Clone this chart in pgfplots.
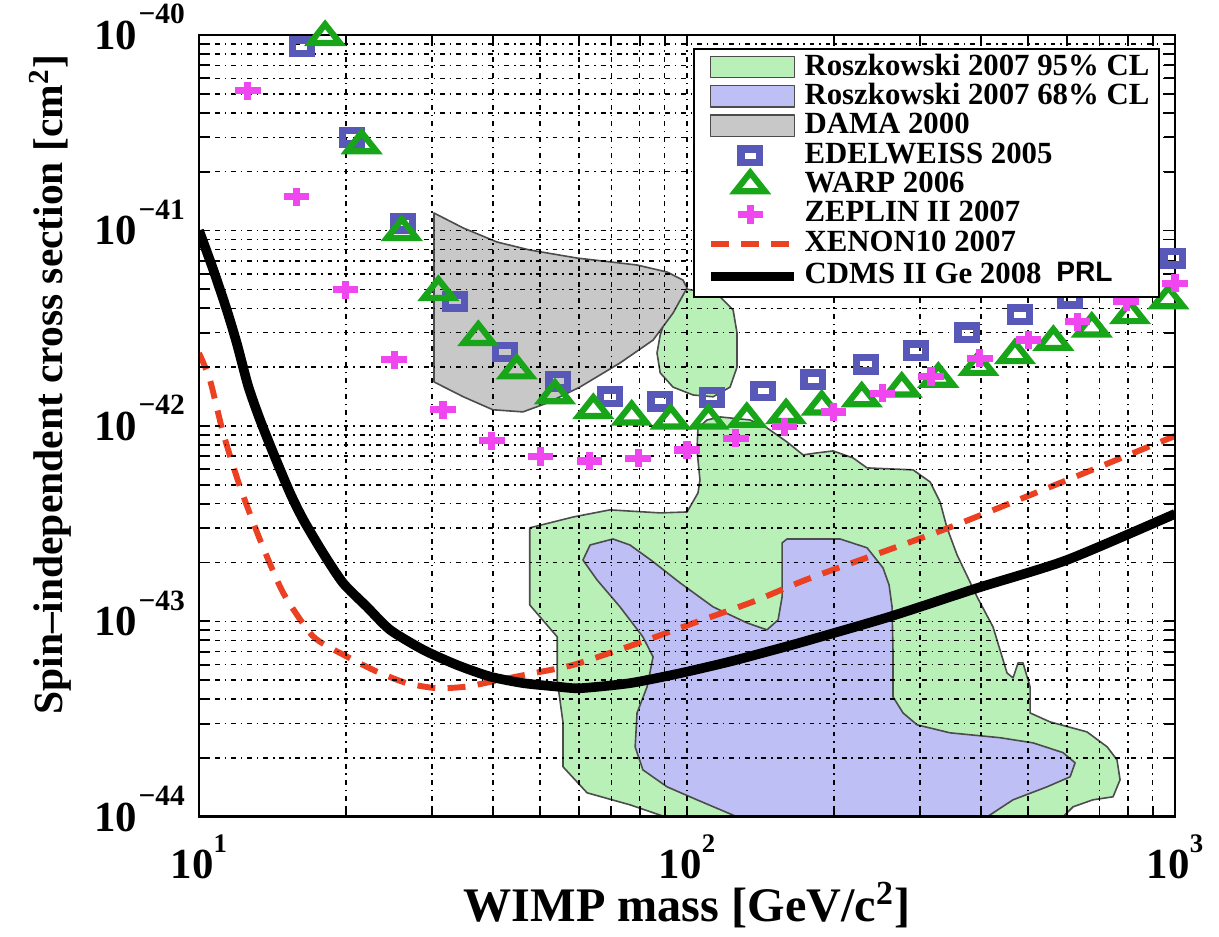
\documentclass[border=0pt]{standalone}
\usepackage{fontspec}
\setmainfont{Liberation Serif}
\newfontfamily\arialfont{Liberation Sans}
\usepackage{pgfplots}
\pgfplotsset{compat=1.18}

\definecolor{gfill}{RGB}{184,240,184}
\definecolor{bfill}{RGB}{190,192,245}
\definecolor{dfill}{RGB}{200,200,200}
\definecolor{edel}{RGB}{88,88,184}
\definecolor{warp}{RGB}{25,165,25}
\definecolor{zep}{RGB}{240,70,240}
\definecolor{xen}{RGB}{236,64,34}

\pgfplotsset{
  patchleg/.style={legend image code/.code={\path (0cm,-0.16cm) (1.2cm,0.16cm); \draw[##1] (0.1cm,-0.13cm) rectangle (1.2cm,0.15cm);}},
  markleg/.style={legend image code/.code={\path (0cm,-0.16cm) (1.2cm,0.16cm); \draw[##1] plot coordinates {(0.62cm,0cm)};}},
  lineleg/.style={legend image code/.code={\path (0cm,-0.16cm) (1.2cm,0.16cm); \draw[##1] (0.1cm,0cm) -- (1.2cm,0cm);}},
}

\newcommand{\xt}[1]{\bfseries 10\raisebox{0.6em}{\fontsize{10}{10}\selectfont\bfseries #1}}
\newcommand{\yt}[1]{\bfseries 10\raisebox{0.6em}{\fontsize{11}{11}\selectfont\bfseries\kern0.05em −#1}}

\begin{document}
\begin{tikzpicture}
\begin{axis}[
  name=ax, at={(0,0)}, anchor=south west,
  scale only axis, width=12.81cm, height=10.26cm,
  xmode=log, ymode=log,
  xmin=10, xmax=1000, ymin=1e-44, ymax=1e-40,
  xtick={10,100,1000}, xticklabels={\xt{1},\xt{2},\xt{3}},
  ytick={1e-44,1e-43,1e-42,1e-41,1e-40},
  yticklabels={\yt{44},\yt{43},\yt{42},\yt{41},\yt{40}},
  minor xtick={20,30,40,50,60,70,80,90,200,300,400,500,600,700,800,900},
  minor ytick={2e-44,3e-44,4e-44,5e-44,6e-44,7e-44,8e-44,9e-44,2e-43,3e-43,4e-43,5e-43,6e-43,7e-43,8e-43,9e-43,2e-42,3e-42,4e-42,5e-42,6e-42,7e-42,8e-42,9e-42,2e-41,3e-41,4e-41,5e-41,6e-41,7e-41,8e-41,9e-41},
  tick align=inside, tick pos=both,
  major tick length=0.14cm, minor tick length=0.14cm,
  every tick/.style={black, line width=0.7pt},
  axis line style={line width=1pt},
  grid=both,
  major grid style={black, line width=0.55pt, dash pattern=on 1.8pt off 1.8pt on 0.6pt off 1.8pt},
  minor grid style={black, line width=0.55pt, dash pattern=on 1.8pt off 1.8pt on 0.6pt off 1.8pt},
  axis on top,
  xticklabel style={font=\fontsize{16}{18}\selectfont, anchor=north, inner sep=0pt, yshift=-0.23cm},
  yticklabel style={font=\fontsize{16}{18}\selectfont, anchor=base east, inner sep=0pt, xshift=-0.18cm, yshift=-5.4pt},
  xlabel={WIMP mass [GeV/c\textsuperscript{2}]},
  xlabel style={at={(axis description cs:0.5,-0.1126)}, anchor=center, font=\fontsize{18}{20}\selectfont\bfseries},
  ylabel={Spin--independent cross section [cm\textsuperscript{2}]},
  ylabel style={at={(axis description cs:-0.1527,0.5526)}, anchor=center, font=\fontsize{15.5}{18}\selectfont\bfseries},
  legend style={at={(axis description cs:0.9844,0.9834)}, anchor=north east, draw=black, line width=0.8pt, fill=white, inner sep=1.5pt, font=\fontsize{11.5}{13}\selectfont\bfseries, row sep=0pt, nodes={inner xsep=2pt, inner ysep=0.2pt, text height=8.1pt, text depth=2.45pt}},
  legend cell align=left,
]
% Roszkowski 95% CL (main region)
\addplot[fill=gfill, draw=black!70, line width=0.6pt, line join=round, patchleg]
coordinates {(105.3,9.77e-43) (109.9,1.073e-42) (116.9,1.112e-42) (134.6,1.073e-42) (145.8,9.77e-43) (160.3,8.28e-43) (172.9,7.11e-43) (184.6,7.28e-43) (199.2,7.45e-43) (218.9,6.86e-43) (233.8,6.10e-43) (290.5,5.96e-43) (314.8,5.17e-43) (329.9,4.09e-43) (341.0,3.01e-43) (357.5,2.19e-43) (393,1.335e-43) (423.6,9.37e-44) (452.5,5.45e-44) (465.6,5.14e-44) (476.8,6.13e-44) (488,6.13e-44) (504.6,4.62e-44) (504.6,3.40e-44) (554.5,3.06e-44) (660,2.72e-44) (726,2.28e-44) (760.5,1.957e-44) (771.5,1.547e-44) (746.4,1.266e-44) (679,1.222e-44) (618,1.125e-44) (589.5,1e-44) (90.2,1e-44) (76.4,1.152e-44) (62.4,1.327e-44) (55.7,1.803e-44) (55.7,3.03e-44) (54.2,5.02e-44) (54.2,8.33e-44) (47.6,1.214e-43) (47.6,3.01e-43) (58.4,3.42e-43) (69.5,3.72e-43) (88.1,3.59e-43) (100,3.63e-43) (105.3,4.54e-43) (106.3,5.29e-43) (104.8,7.54e-43)} -- cycle;
\addlegendentry{Roszkowski 2007 95\% CL}
% Roszkowski 95% CL (small island)
\addplot[forget plot, fill=gfill, draw=black!70, line width=0.6pt, line join=round]
coordinates {(92.3,4.16e-42) (99.5,5.02e-42) (107.8,4.85e-42) (116.9,4.57e-42) (124.3,3.92e-42) (126.6,2.99e-42) (126.6,2.00e-42) (122.5,1.58e-42) (113.1,1.41e-42) (102.9,1.44e-42) (93.6,1.58e-42) (88.1,1.87e-42) (86.8,2.36e-42) (88.1,2.92e-42)} -- cycle;
% Roszkowski 68% CL
\addplot[fill=bfill, draw=black!70, line width=0.6pt, line join=round, patchleg]
coordinates {(61.2,2.06e-43) (63.3,2.46e-43) (70.5,2.64e-43) (76.4,2.46e-43) (85.2,2.02e-43) (96.8,1.573e-43) (113.1,1.186e-43) (132.7,9.82e-44) (145.8,9.05e-44) (153.7,1.018e-43) (156.6,1.335e-43) (156.6,2.52e-43) (160.3,2.64e-43) (205.8,2.64e-43) (233.8,2.38e-43) (252.1,1.878e-43) (259.4,1.537e-43) (263.1,1.186e-43) (264.3,6.90e-44) (264.3,4.11e-44) (277.1,3.40e-44) (296.1,2.955e-44) (345.8,2.69e-44) (437.8,2.54e-44) (511.7,2.39e-44) (589.5,2.13e-44) (624,1.889e-44) (609.4,1.602e-44) (546.6,1.424e-44) (465.6,1.222e-44) (412,1e-44) (126.6,1e-44) (104.8,1.222e-44) (91.0,1.424e-44) (81.2,1.739e-44) (78.3,2.28e-44) (79.0,3.40e-44) (82.8,4.62e-44) (85.2,6.58e-44) (81.2,8.33e-44) (72.9,1.186e-43) (65.4,1.63e-43)} -- cycle;
\addlegendentry{Roszkowski 2007 68\% CL}
% DAMA 2000
\addplot[fill=dfill, draw=black!70, line width=0.6pt, line join=round, patchleg]
coordinates {(30.3,1.229e-41) (34.8,1.030e-41) (40.8,8.73e-42) (47.6,7.95e-42) (59.5,7.23e-42) (79.0,6.66e-42) (91.0,6.13e-42) (98.1,5.58e-42) (100,5.08e-42) (93.6,3.78e-42) (85.2,2.75e-42) (72.9,2.10e-42) (60.3,1.58e-42) (51.7,1.31e-42) (46.1,1.18e-42) (40.0,1.21e-42) (34.8,1.41e-42) (30.3,1.68e-42)} -- cycle;
\addlegendentry{DAMA 2000}
% EDELWEISS 2005
\addplot[only marks, mark=square, color=edel, mark size=2.5pt, mark options={xscale=1.4, line width=2.8pt, solid}, markleg]
coordinates {(16.24,8.71e-41) (20.56,3.0e-41) (26.22,1.09e-41) (33.46,4.33e-42) (42.36,2.39e-42) (54.49,1.69e-42) (69.54,1.41e-42) (88.09,1.34e-42) (112.3,1.40e-42) (143.3,1.51e-42) (181.5,1.72e-42) (232.7,2.07e-42) (294.6,2.43e-42) (375.3,3.0e-42) (481.3,3.70e-42) (609.2,4.50e-42) (771.5,5.6e-42) (992,7.2e-42)};
\addlegendentry{EDELWEISS 2005}
% WARP 2006
\addplot[only marks, mark=triangle, color=warp, mark size=4.9pt, mark options={xscale=1.3, yscale=0.95, line width=2.3pt, solid}, markleg]
coordinates {(18.13,9.8e-41) (21.54,2.74e-41) (26.03,9.86e-42) (30.94,4.86e-42) (37.36,2.86e-42) (44.77,1.93e-42) (53.63,1.44e-42) (64.27,1.21e-42) (77.03,1.12e-42) (92.60,1.07e-42) (110.6,1.07e-42) (132.6,1.09e-42) (159.6,1.14e-42) (188.8,1.26e-42) (228.0,1.39e-42) (275.4,1.56e-42) (327.3,1.75e-42) (395.4,2.01e-42) (470.0,2.31e-42) (563.2,2.70e-42) (675.1,3.16e-42) (808.6,3.70e-42) (969.0,4.41e-42)};
\addlegendentry{WARP 2006}
% ZEPLIN II 2007
\addplot[only marks, mark=+, color=zep, mark size=3.4pt, mark options={xscale=1.4, line width=2.7pt, solid}, markleg]
coordinates {(12.59,5.19e-41) (15.85,1.49e-41) (19.95,4.97e-42) (25.12,2.18e-42) (31.62,1.21e-42) (39.81,8.41e-43) (50.12,6.97e-43) (63.10,6.62e-43) (79.43,6.84e-43) (100,7.53e-43) (125.9,8.65e-43) (158.5,9.9e-43) (199.5,1.18e-42) (251.2,1.47e-42) (316.2,1.79e-42) (398.1,2.22e-42) (501.2,2.75e-42) (631.0,3.41e-42) (794.3,4.33e-42) (1000,5.37e-42)};
\addlegendentry{ZEPLIN II 2007}
% XENON10 2007
\addplot[color=xen, line width=2.2pt, dash pattern=on 6.7pt off 4.6pt, smooth, tension=0.4, mark=none, lineleg]
coordinates {(10,2.36e-42) (10.53,1.72e-42) (11.21,9.18e-43) (12.13,4.89e-43) (13.34,2.61e-43) (14.89,1.394e-43) (17.15,8.36e-44) (20.08,6.61e-44) (23.12,5.54e-44) (26.65,4.83e-44) (30.70,4.55e-44) (35.37,4.64e-44) (41.4,5.02e-44) (48.4,5.43e-44) (58.5,5.99e-44) (77.6,7.58e-44) (103.0,9.79e-44) (136.8,1.263e-43) (178.6,1.663e-43) (335.1,2.94e-43) (590.3,5.19e-43) (1000,8.89e-43)};
\addlegendentry{XENON10 2007}
% CDMS II Ge 2008
\addplot[color=black, line width=3.6pt, smooth, tension=0.4, mark=none, line join=round, lineleg]
coordinates {(10,1.0e-41) (10.70,6.28e-42) (11.40,3.92e-42) (11.95,2.65e-42) (12.62,1.59e-42) (13.34,1.073e-42) (14.20,7.25e-43) (15.37,4.53e-43) (16.36,3.31e-43) (17.97,2.23e-43) (19.75,1.568e-43) (22.06,1.19e-43) (24.63,9.05e-44) (28.82,7.15e-44) (33.74,5.99e-44) (39.48,5.22e-44) (46.19,4.83e-44) (54.08,4.64e-44) (60.35,4.55e-44) (76.4,4.83e-44) (96.8,5.43e-44) (122.5,6.23e-44) (155.1,7.29e-44) (178.6,8.04e-44) (260.6,1.058e-43) (392.4,1.478e-43) (600,2.06e-43) (1000,3.55e-43)};
\addlegendentry{CDMS II Ge 2008}
\end{axis}
\node[font=\arialfont\bfseries\fontsize{10.5}{11}\selectfont, anchor=center] at (11.62cm,7.15cm) {PRL};
\pgfresetboundingbox
\path[use as bounding box] (-2.612cm,-1.575cm) rectangle (13.387cm,10.719cm);
\end{tikzpicture}
\end{document}
